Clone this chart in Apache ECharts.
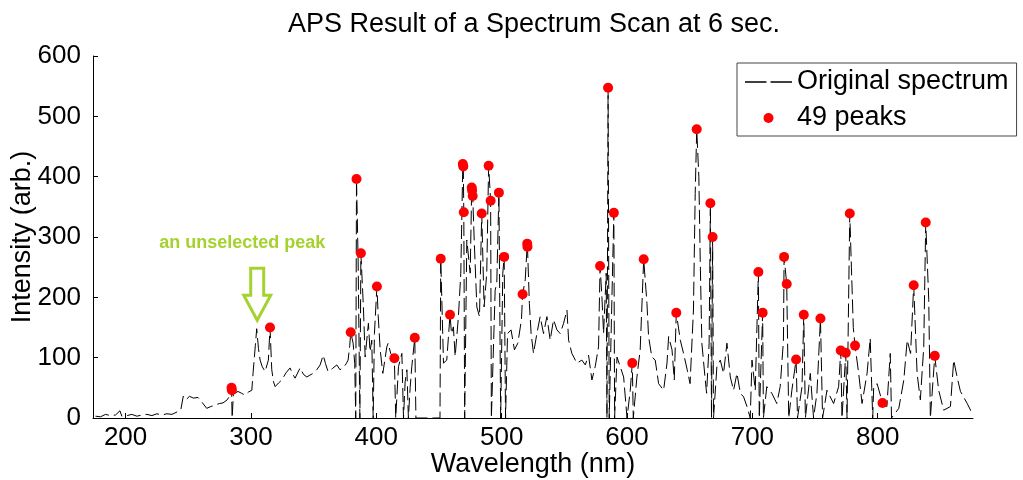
<!DOCTYPE html>
<html><head><meta charset="utf-8">
<script src="https://cdn.jsdelivr.net/npm/echarts@6/dist/echarts.min.js"></script>
<style>html,body{margin:0;padding:0;background:#fff}#c{width:1023px;height:480px}</style>
</head><body><div id="c"></div>
<script>
// ---- data ----
const chartTitle = 'APS Result of a Spectrum Scan at 6 sec.';
const xName = 'Wavelength (nm)';
const yName = 'Intensity (arb.)';
const seriesNames = ['Original spectrum', '49 peaks'];
const xTicks = [200, 300, 400, 500, 600, 700, 800];
const yTicks = [0, 100, 200, 300, 400, 500, 600];

const spectrumX = [
176,180,184,188,192,195.5,197,201,205,209,213,217,221,225,229,233,237,241,244,246,248,251,254,257.8,261,264.7,268,272,275,277.7,281,283.5,284.5,285,286,289.7,292.5,295.3,298,300.7,301.7,303.5,304.6,306,307.3,309,311.3,313.9,315.2,316.6,318,319.3,322,324.6,328,331.2,333,335.2,339.2,342,344.6,347,349.6,352.5,355.2,357.6,359.5,361.5,365,368.5,371,373.5,376,377.5,378.8,379.6,381.5,382.8,383.6,384.2,385.5,386.9,387.7,389.7,391.1,393.7,395,396.4,397.5,398.5,400.5,401.5,403.1,405.2,408.4,409.5,411.5,414.4,415.5,417.7,420.4,421.7,423,424.4,425.6,427,428.3,430.7,431.6,450.8,451.4,453.6,456.2,458.8,460,461.5,462.9,465.5,467.4,469,469.4,469.8,470.5,472.2,474.9,476.1,476.4,476.9,478.1,480.2,482.3,484.1,486,488.1,489.6,491.2,491.8,493,494.8,496.1,497.8,499.2,500.9,502,503.1,504.7,507.5,510.2,512.9,515.8,516.7,518.8,520.4,520.6,522.1,523.5,525.4,528.1,530.7,533.4,536.1,538.7,541.4,544.1,546.7,549.4,552.1,553.4,556,560,564,566.7,569.3,572,574.6,577.3,578.5,580,581.3,583.4,584,584.9,585.8,589.5,590.1,592,594.6,597.3,600,602.6,604.2,605,607.9,610.5,613.3,615.9,617.2,619.8,622.5,625.2,629.2,631.9,633.2,635.9,637.7,639.3,642.5,645.1,648,650.3,653,654.4,655.6,657.3,658.4,659.7,662.2,663.5,665.5,666.5,667.4,668.3,669,671.7,674.4,677,679.7,682.4,685,687.7,690.4,693,695.7,698.3,699.7,702.3,704.8,705.5,708.2,708.8,711.5,715.5,719.5,722.2,724.8,725.3,727.4,729,731.5,734.9,736,739.6,741,742.3,746.2,748.8,751.5,754.3,756,759.5,764.8,768.8,770.5,771.5,774.5,775.5,777.7,779,780.5,781.9,784.8,787.5,791.5,794,796,796.8,799.5,803.8,807.3,810,811,816.8,820.8,823.5,826.2,828.7,831.4,834,836.7,838.3,840.7,842,845.5,848.6,852.6,858,860.6,863.3,866,871.4,875.2
];
const spectrumY = [
3,2,6,4,5,12,3,4,6,3,5,6,4,7,5,7,6,10,13,36,30,36,33,34,26,16,19,22,24,25,30,38,50,0,40,44,41,38,43,46,75,120,148,115,96,85,77,96,150,80,60,52,58,63,75,83,74,66,83,72,68,71,74,80,88,104,90,77,82,88,80,83,90,96,120,142,124,90,0,396,262,0,273,184,101,157,110,129,0,140,218,170,113,74,118,124,107,99,0,85,107,0,60,80,0,50,85,133,0,0,264,91,96,171,140,151,102,168,240,421,417,341,0,295,240,382,377,368,295,184,168,339,184,240,418,360,0,0,212,223,373.5,0,240,267,0,140,146,113,124,163,205,229,289,284,190,140,107,140,168,140,168,129,163,146,140,157,179,129,107,91,96,88,104,63,85,118,252,200,140,240,0,547.5,0,340,0,101,85,68,0,46,91,0,68,113,263,190,135,101,96,57,46,91,135,113,63,174.5,129,107,80,57,179,372,478.5,400,262,124,68,41,124,356,0,300,0,85,96,74,124,68,46,74,41,35,19,0,96,46,242,0,174.5,0,52,41,24,52,129,267,222,0,46,97,0,52,171,0,74,0,41,165,0,46,24,52,112,0,108,0,339,250,150,120,74,24,74,132,0,52,57,25,19,107,0,16,63,129,107,220,74,30,118,324,196,0,103,46,13,19,96,68,44,24,8
];

const peakX = [284.5,284.8,315.2,379.6,384.2,387.7,400.5,414.4,430.7,451.4,458.8,469,469.4,469.8,476.1,476.4,476.9,484.1,489.6,491.2,497.8,502,516.7,520.4,520.6,578.5,584.9,589.5,604.2,613.3,639.3,655.6,666.5,668.3,704.8,708.2,725.3,727.4,734.9,741,754.3,770.5,774.5,777.7,781.9,803.8,828.7,838.3,845.5];
const peakY = [50,46,150,142,396,273,218,99,133,264,171,421,417,341,382,377,368,339,418,360,373.5,267,205,289,284,252,547.5,340,91,263,174.5,478.5,356,300,242,174.5,267,222,97,171,165,112,108,339,120,25,220,324,103];

const annotationText = 'an unselected peak';
const annotationTip = [305, 162];   // data point the arrow tip sits on

// ---- build ----
const spectrum = spectrumX.map((x, i) => [x, spectrumY[i]]);
const peaks = peakX.map((x, i) => [x, peakY[i]]);

const FONT = 'Liberation Sans, Arial, sans-serif';
const chart = echarts.init(document.getElementById('c'), null, {renderer: 'canvas'});
chart.setOption({
  animation: false,
  backgroundColor: '#fff',
  title: {
    text: chartTitle, left: 529, top: 6, textAlign: 'center',
    textStyle: {fontFamily: FONT, fontSize: 27, fontWeight: 'normal', color: '#000'}
  },
  grid: {left: 93, right: 50, top: 56, bottom: 62, containLabel: false, outerBoundsMode: 'none'},
  legend: {
    orient: 'vertical', left: 737, top: 63,
    padding: [4, 8, 3, 8], itemGap: 6,
    itemWidth: 47, itemHeight: 10,
    borderColor: '#444', borderWidth: 1, backgroundColor: '#fff',
    textStyle: {fontFamily: FONT, fontSize: 27, color: '#000', lineHeight: 30},
    data: [
      {name: seriesNames[0], icon: 'path://M0,0h21v1.4h-21zM25,0h21v1.4h-21z'},
      {name: seriesNames[1], icon: 'circle'}
    ]
  },
  xAxis: {
    type: 'value', min: 174, max: 876,
    axisLine: {show: true, lineStyle: {color: '#000', width: 1}},
    axisTick: {show: true, inside: true, length: 5, customValues: xTicks, lineStyle: {color: '#000'}},
    axisLabel: {customValues: xTicks, fontFamily: FONT, fontSize: 26, color: '#000', margin: 7},
    splitLine: {show: false},
    name: xName, nameLocation: 'middle', nameGap: 33, nameMoveOverlap: false,
    nameTextStyle: {fontFamily: FONT, fontSize: 27, color: '#000'}
  },
  yAxis: {
    type: 'value', min: 0, max: 600, interval: 100,
    axisLine: {show: true, lineStyle: {color: '#000', width: 1}},
    axisTick: {show: true, inside: true, length: 5, lineStyle: {color: '#000'}},
    axisLabel: {fontFamily: FONT, fontSize: 26, color: '#000', margin: 12},
    splitLine: {show: false},
    name: yName, nameLocation: 'middle', nameGap: 57, nameMoveOverlap: false,
    nameTextStyle: {fontFamily: FONT, fontSize: 27, color: '#000'}
  },
  series: [
    {
      name: seriesNames[0], type: 'line', data: spectrum,
      symbol: 'none', showSymbol: false,
      lineStyle: {color: '#000', width: 1, type: [14, 5]},
      itemStyle: {color: '#000'}, z: 2
    },
    {
      name: seriesNames[1], type: 'scatter', data: peaks,
      symbol: 'circle', symbolSize: 10,
      itemStyle: {color: '#ff0000', opacity: 1}, z: 3
    }
  ]
});

// annotation positioned from data coordinates
const tip = chart.convertToPixel({gridIndex: 0}, annotationTip);
const green = '#a5d22e';
chart.setOption({
  graphic: [
    {
      type: 'polygon', x: tip[0], y: tip[1], z: 10,
      shape: {points: [[0,0],[13.5,-25],[6.5,-25],[6.5,-52],[-6.5,-52],[-6.5,-25],[-13.5,-25]]},
      style: {fill: 'none', stroke: green, lineWidth: 3}
    },
    {
      type: 'text', x: tip[0] - 15, y: tip[1] - 77, z: 10,
      style: {text: annotationText, fill: green, font: 'bold 18px ' + FONT, textAlign: 'center', textVerticalAlign: 'middle'}
    }
  ]
});
</script>
</body></html>
